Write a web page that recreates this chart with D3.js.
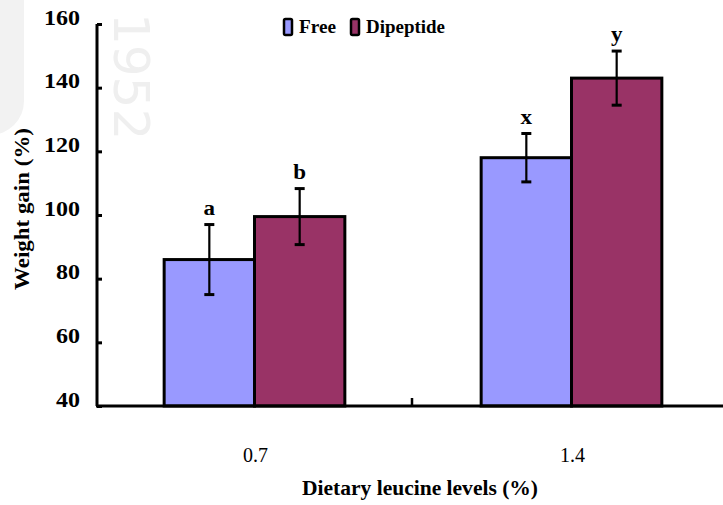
<!DOCTYPE html>
<html>
<head>
<meta charset="utf-8">
<script src="https://cdn.jsdelivr.net/npm/d3@7"></script>
<style>
  html, body { margin: 0; padding: 0; background: #fff; }
  svg { display: block; }
  text { font-family: "Liberation Serif", "Times New Roman", serif; font-weight: bold; fill: #000; }
</style>
</head>
<body>
<svg id="chart" width="723" height="505"></svg>
<script>
// Weight gain by dietary leucine level and leucine form
const levels = ["0.7", "1.4"];
const forms = ["Free", "Dipeptide"];
const freeMean = [86, 118];
const freeSE = [11, 7.6];
const dipeptideMean = [99.5, 143];
const dipeptideSE = [8.8, 8.5];
const letters = [["a", "b"], ["x", "y"]];
const yTicks = [40, 60, 80, 100, 120, 140, 160];
const colors = { Free: "#9999FF", Dipeptide: "#993366" };

const rows = levels.flatMap((lv, i) => [
  { level: lv, form: "Free", mean: freeMean[i], se: freeSE[i], letter: letters[i][0] },
  { level: lv, form: "Dipeptide", mean: dipeptideMean[i], se: dipeptideSE[i], letter: letters[i][1] }
]);

const svg = d3.select("#chart");

// widen a text element to a given length (the typeface runs wide)
function stretch(sel, len) {
  sel.attr("textLength", len).attr("lengthAdjust", "spacingAndGlyphs");
}

// faint background marks
svg.append("rect").attr("x", -60).attr("y", -40).attr("width", 84).attr("height", 175)
  .attr("rx", 34).attr("fill", "#f2f2f2");
svg.append("text").attr("transform", "translate(114,13) rotate(90)")
  .style("font-family", "'DejaVu Sans', sans-serif").style("font-weight", "normal")
  .style("font-size", "50px").style("fill", "#efefef").text("1952");

const x0 = d3.scaleBand().domain(levels).range([96, 730]).paddingInner(0.43).paddingOuter(0.215);
const x1 = d3.scaleBand().domain(forms).range([0, x0.bandwidth()]);
const y = d3.scaleLinear().domain([40, 160]).range([406, 24]);

// bars
svg.append("g").selectAll("rect").data(rows).join("rect")
  .attr("x", d => x0(d.level) + x1(d.form))
  .attr("y", d => y(d.mean))
  .attr("width", x1.bandwidth())
  .attr("height", d => y(40) - y(d.mean))
  .attr("fill", d => colors[d.form])
  .attr("stroke", "#000").attr("stroke-width", 3);

// error bars
const eb = svg.append("g").attr("stroke", "#000").attr("stroke-width", 2.2);
rows.forEach(d => {
  const cx = x0(d.level) + x1(d.form) + x1.bandwidth() / 2;
  eb.append("line").attr("x1", cx).attr("x2", cx).attr("y1", y(d.mean + d.se)).attr("y2", y(d.mean - d.se));
  [d.mean + d.se, d.mean - d.se].forEach(v => {
    eb.append("line").attr("x1", cx - 5).attr("x2", cx + 5).attr("y1", y(v)).attr("y2", y(v)).attr("stroke-width", 3);
  });
});

// significance letters
svg.append("g").selectAll("text").data(rows).join("text")
  .attr("x", d => x0(d.level) + x1(d.form) + x1.bandwidth() / 2)
  .attr("y", d => y(d.mean + d.se) - 10)
  .attr("text-anchor", "middle").style("font-size", "20px")
  .text(d => d.letter)
  .each(function () { stretch(d3.select(this), this.getComputedTextLength() * 1.15); });

// y axis
const yAxis = svg.append("g").attr("transform", "translate(97,0)")
  .call(d3.axisRight(y).tickValues(yTicks).tickSize(5).tickFormat(""));
yAxis.select(".domain").attr("stroke-width", 3).attr("d", `M0,${y(160)}V${y(40)}`);
yAxis.selectAll(".tick line").attr("stroke-width", 3);
svg.append("g").selectAll("text").data(yTicks).join("text")
  .attr("x", 80).attr("y", d => y(d) + 0.5)
  .attr("text-anchor", "end").style("font-size", "20px")
  .text(d => d)
  .each(function (d) { stretch(d3.select(this), String(d).length * 12); });

// x axis
svg.append("line").attr("x1", 96).attr("x2", 723).attr("y1", 406).attr("y2", 406)
  .attr("stroke", "#000").attr("stroke-width", 3.2);
svg.append("line").attr("x1", 412).attr("x2", 412).attr("y1", 406).attr("y2", 398)
  .attr("stroke", "#000").attr("stroke-width", 2.5);
svg.append("g").selectAll("text").data(levels).join("text")
  .attr("x", d => x0(d) + x0.bandwidth() / 2 + 1)
  .attr("y", 462)
  .attr("text-anchor", "middle").style("font-size", "20px").style("font-weight", "normal")
  .text(d => d)
  .each(function () { stretch(d3.select(this), 25); });

// axis titles
svg.append("text").attr("x", 420).attr("y", 495).attr("text-anchor", "middle")
  .style("font-size", "20px").text("Dietary leucine levels (%)")
  .call(stretch, 236);
svg.append("text").attr("transform", "translate(29,209) rotate(-90)").attr("text-anchor", "middle")
  .style("font-size", "20px").text("Weight gain (%)")
  .call(stretch, 162);

// legend
const legendWidths = { Free: 37, Dipeptide: 79 };
const lg = svg.append("g");
let lx = 283;
forms.forEach(f => {
  lg.append("rect").attr("x", lx + 1).attr("y", 19).attr("width", 8).attr("height", 16)
    .attr("rx", 1.5).attr("fill", colors[f]).attr("stroke", "#000").attr("stroke-width", 2.5);
  lg.append("text").attr("x", lx + 16).attr("y", 33).style("font-size", "19px").text(f)
    .call(stretch, legendWidths[f]);
  lx += 16 + legendWidths[f] + 14;
});
</script>
</body>
</html>
